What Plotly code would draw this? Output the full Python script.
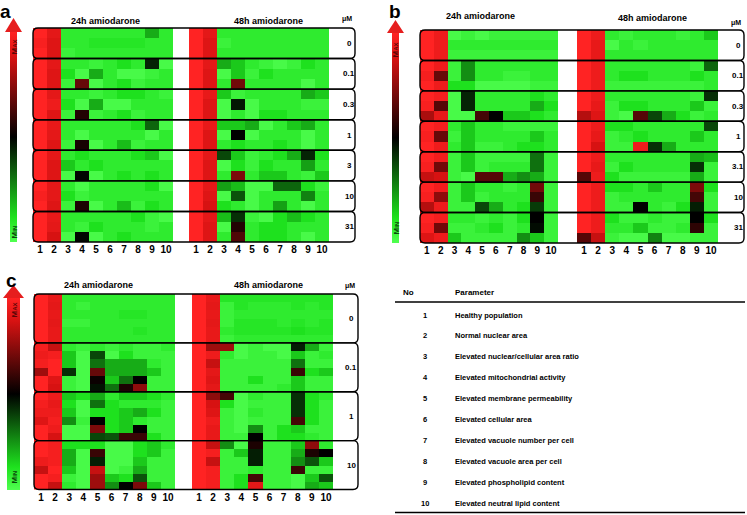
import plotly.graph_objects as go

# ---------------- data ----------------
COLS = ["1", "2", "3", "4", "5", "6", "7", "8", "9", "10"]
TIMES = ["24h amiodarone", "48h amiodarone"]
UNIT = "μM"
CONC_A = ["0", "0.1", "0.3", "1", "3", "10", "31"]
CONC_B = ["0", "0.1", "0.3", "1", "3.1", "10", "31"]
CONC_C = ["0", "0.1", "1", "10"]
PARAMETERS = [
    "Healthy population",
    "Normal nuclear area",
    "Elevated nuclear/cellular area ratio",
    "Elevated mitochondrial activity",
    "Elevated membrane permeability",
    "Elevated cellular area",
    "Elevated vacuole number per cell",
    "Elevated vacuole area per cell",
    "Elevated phospholipid content",
    "Elevated neutral lipid content",
]

# relative level 0 (min, green) .. 0.5 (black) .. 1 (max, red)
A_24H = [
    [1.0, 0.92, 0.08, 0.08, 0.08, 0.08, 0.08, 0.08, 0.21, 0.08],
    [0.98, 0.90, 0.08, 0.08, 0.10, 0.10, 0.10, 0.10, 0.08, 0.08],
    [1.0, 0.90, 0.05, 0.08, 0.08, 0.08, 0.08, 0.08, 0.08, 0.08],
    [1.0, 0.92, 0.08, 0.08, 0.05, 0.08, 0.12, 0.08, 0.44, 0.02],
    [1.0, 0.90, 0.12, 0.02, 0.21, 0.08, 0.02, 0.02, 0.05, 0.08],
    [1.0, 0.90, 0.05, 0.68, 0.02, 0.08, 0.12, 0.05, 0.08, 0.08],
    [1.0, 0.92, 0.08, 0.08, 0.05, 0.08, 0.12, 0.12, 0.08, 0.05],
    [1.0, 0.95, 0.12, 0.02, 0.21, 0.02, 0.02, 0.08, 0.08, 0.08],
    [1.0, 0.90, 0.05, 0.56, 0.05, 0.08, 0.12, 0.05, 0.08, 0.08],
    [1.0, 0.93, 0.08, 0.08, 0.08, 0.08, 0.08, 0.12, 0.33, 0.02],
    [1.0, 0.92, 0.08, 0.02, 0.08, 0.08, 0.08, 0.08, 0.02, 0.08],
    [1.0, 0.90, 0.05, 0.54, 0.02, 0.08, 0.18, 0.05, 0.08, 0.08],
    [1.0, 0.92, 0.08, 0.12, 0.08, 0.08, 0.08, 0.12, 0.16, 0.02],
    [1.0, 0.90, 0.16, 0.08, 0.12, 0.08, 0.08, 0.08, 0.08, 0.08],
    [1.0, 0.90, 0.02, 0.49, 0.02, 0.08, 0.12, 0.08, 0.12, 0.08],
    [1.0, 0.92, 0.08, 0.02, 0.08, 0.08, 0.08, 0.08, 0.12, 0.02],
    [0.98, 0.92, 0.12, 0.05, 0.08, 0.08, 0.08, 0.08, 0.08, 0.08],
    [1.0, 0.90, 0.05, 0.55, 0.02, 0.08, 0.18, 0.05, 0.12, 0.08],
    [1.0, 0.93, 0.08, 0.08, 0.08, 0.08, 0.08, 0.12, 0.05, 0.02],
    [1.0, 0.92, 0.08, 0.05, 0.12, 0.08, 0.08, 0.08, 0.05, 0.08],
    [1.0, 0.88, 0.02, 0.49, 0.02, 0.08, 0.12, 0.08, 0.08, 0.08],
]
A_48H = [
    [1.0, 0.92, 0.08, 0.08, 0.08, 0.08, 0.08, 0.08, 0.08, 0.08],
    [1.0, 0.90, 0.05, 0.08, 0.08, 0.08, 0.08, 0.08, 0.08, 0.08],
    [1.0, 0.90, 0.08, 0.08, 0.08, 0.08, 0.08, 0.08, 0.08, 0.08],
    [1.0, 0.92, 0.21, 0.16, 0.08, 0.05, 0.02, 0.05, 0.12, 0.08],
    [1.0, 0.90, 0.02, 0.16, 0.05, 0.12, 0.08, 0.08, 0.08, 0.08],
    [1.0, 0.90, 0.08, 0.70, 0.08, 0.08, 0.08, 0.08, 0.02, 0.08],
    [1.0, 0.93, 0.16, 0.05, 0.08, 0.08, 0.08, 0.08, 0.21, 0.16],
    [1.0, 0.90, 0.02, 0.46, 0.02, 0.08, 0.08, 0.08, 0.05, 0.05],
    [1.0, 0.90, 0.02, 0.08, 0.02, 0.12, 0.12, 0.08, 0.08, 0.08],
    [1.0, 0.93, 0.16, 0.16, 0.21, 0.02, 0.08, 0.16, 0.21, 0.08],
    [1.0, 0.90, 0.02, 0.50, 0.02, 0.08, 0.08, 0.08, 0.02, 0.08],
    [1.0, 0.90, 0.08, 0.12, 0.08, 0.08, 0.12, 0.08, 0.02, 0.08],
    [1.0, 0.92, 0.38, 0.16, 0.05, 0.08, 0.12, 0.21, 0.44, 0.12],
    [1.0, 0.90, 0.02, 0.12, 0.05, 0.12, 0.08, 0.08, 0.23, 0.08],
    [1.0, 0.90, 0.08, 0.72, 0.08, 0.16, 0.16, 0.08, 0.05, 0.16],
    [1.0, 0.92, 0.23, 0.18, 0.02, 0.02, 0.33, 0.33, 0.12, 0.05],
    [1.0, 0.90, 0.02, 0.36, 0.02, 0.08, 0.08, 0.08, 0.28, 0.08],
    [1.0, 0.88, 0.12, 0.08, 0.02, 0.08, 0.23, 0.08, 0.02, 0.08],
    [1.0, 0.92, 0.18, 0.42, 0.05, 0.02, 0.12, 0.18, 0.12, 0.08],
    [1.0, 0.90, 0.02, 0.56, 0.08, 0.12, 0.12, 0.08, 0.08, 0.08],
    [1.0, 0.90, 0.08, 0.64, 0.08, 0.12, 0.12, 0.08, 0.02, 0.08],
]
B_24H = [
    [1.0, 0.95, 0.02, 0.05, 0.02, 0.05, 0.05, 0.05, 0.05, 0.05],
    [1.0, 0.95, 0.08, 0.08, 0.08, 0.08, 0.08, 0.08, 0.08, 0.08],
    [1.0, 0.95, 0.05, 0.05, 0.05, 0.05, 0.05, 0.05, 0.05, 0.05],
    [1.0, 0.95, 0.05, 0.26, 0.08, 0.08, 0.08, 0.08, 0.08, 0.08],
    [0.97, 0.68, 0.05, 0.26, 0.08, 0.08, 0.05, 0.05, 0.08, 0.08],
    [1.0, 0.95, 0.12, 0.12, 0.02, 0.02, 0.02, 0.02, 0.05, 0.05],
    [1.0, 0.97, 0.02, 0.44, 0.08, 0.08, 0.08, 0.08, 0.12, 0.08],
    [0.98, 0.65, 0.02, 0.44, 0.08, 0.08, 0.08, 0.08, 0.21, 0.12],
    [0.80, 0.93, 0.02, 0.02, 0.62, 0.50, 0.16, 0.16, 0.12, 0.08],
    [1.0, 0.97, 0.08, 0.16, 0.08, 0.08, 0.05, 0.05, 0.05, 0.05],
    [0.98, 0.68, 0.05, 0.16, 0.08, 0.08, 0.08, 0.08, 0.16, 0.08],
    [1.0, 0.95, 0.08, 0.16, 0.05, 0.05, 0.08, 0.12, 0.12, 0.08],
    [1.0, 0.96, 0.05, 0.16, 0.05, 0.05, 0.05, 0.05, 0.31, 0.05],
    [0.98, 0.70, 0.05, 0.16, 0.05, 0.08, 0.08, 0.08, 0.31, 0.05],
    [0.85, 0.88, 0.05, 0.02, 0.65, 0.65, 0.21, 0.26, 0.21, 0.05],
    [1.0, 0.96, 0.05, 0.16, 0.08, 0.08, 0.05, 0.08, 0.70, 0.05],
    [0.98, 0.75, 0.05, 0.16, 0.05, 0.08, 0.08, 0.08, 0.60, 0.05],
    [0.82, 0.95, 0.05, 0.05, 0.38, 0.21, 0.08, 0.12, 0.40, 0.05],
    [1.0, 0.97, 0.08, 0.08, 0.05, 0.08, 0.05, 0.12, 0.50, 0.05],
    [0.98, 0.70, 0.05, 0.05, 0.08, 0.12, 0.05, 0.08, 0.48, 0.05],
    [0.90, 0.95, 0.16, 0.05, 0.05, 0.05, 0.05, 0.26, 0.16, 0.05],
]
B_48H = [
    [1.0, 0.95, 0.08, 0.05, 0.08, 0.08, 0.08, 0.05, 0.08, 0.16],
    [1.0, 0.93, 0.02, 0.08, 0.05, 0.08, 0.08, 0.08, 0.08, 0.08],
    [1.0, 0.93, 0.08, 0.08, 0.08, 0.08, 0.08, 0.08, 0.08, 0.08],
    [1.0, 0.95, 0.08, 0.08, 0.08, 0.08, 0.08, 0.08, 0.05, 0.33],
    [1.0, 0.95, 0.08, 0.12, 0.12, 0.08, 0.08, 0.08, 0.12, 0.08],
    [1.0, 0.95, 0.05, 0.05, 0.05, 0.05, 0.05, 0.05, 0.05, 0.08],
    [1.0, 0.95, 0.08, 0.08, 0.08, 0.08, 0.08, 0.08, 0.05, 0.42],
    [1.0, 0.93, 0.05, 0.12, 0.12, 0.08, 0.08, 0.08, 0.16, 0.05],
    [0.82, 0.90, 0.05, 0.02, 0.65, 0.38, 0.21, 0.12, 0.05, 0.08],
    [1.0, 0.95, 0.12, 0.12, 0.08, 0.08, 0.08, 0.08, 0.08, 0.38],
    [1.0, 0.93, 0.05, 0.08, 0.12, 0.08, 0.08, 0.08, 0.16, 0.08],
    [1.0, 0.88, 0.05, 0.05, 0.95, 0.42, 0.21, 0.08, 0.08, 0.08],
    [1.0, 0.95, 0.08, 0.08, 0.08, 0.08, 0.08, 0.08, 0.21, 0.18],
    [1.0, 0.93, 0.05, 0.12, 0.08, 0.08, 0.08, 0.08, 0.42, 0.05],
    [0.65, 0.95, 0.12, 0.05, 0.05, 0.05, 0.05, 0.05, 0.21, 0.05],
    [1.0, 0.95, 0.12, 0.12, 0.08, 0.16, 0.08, 0.08, 0.72, 0.12],
    [1.0, 0.95, 0.05, 0.08, 0.08, 0.08, 0.08, 0.08, 0.62, 0.05],
    [1.0, 0.95, 0.05, 0.05, 0.50, 0.08, 0.05, 0.12, 0.45, 0.05],
    [1.0, 0.95, 0.12, 0.05, 0.05, 0.08, 0.05, 0.05, 0.50, 0.12],
    [1.0, 0.95, 0.08, 0.08, 0.16, 0.05, 0.05, 0.08, 0.58, 0.05],
    [0.65, 0.85, 0.05, 0.02, 0.02, 0.28, 0.02, 0.02, 0.05, 0.05],
]
C_24H = [
    [1.0, 0.93, 0.08, 0.08, 0.08, 0.08, 0.08, 0.08, 0.08, 0.08],
    [1.0, 0.92, 0.08, 0.05, 0.08, 0.08, 0.08, 0.08, 0.08, 0.08],
    [1.0, 0.93, 0.08, 0.08, 0.08, 0.08, 0.10, 0.10, 0.08, 0.08],
    [1.0, 0.92, 0.05, 0.05, 0.08, 0.08, 0.08, 0.08, 0.08, 0.08],
    [1.0, 0.93, 0.08, 0.08, 0.08, 0.08, 0.08, 0.10, 0.08, 0.08],
    [1.0, 0.93, 0.08, 0.08, 0.08, 0.08, 0.08, 0.08, 0.08, 0.08],
    [0.97, 0.85, 0.08, 0.05, 0.08, 0.05, 0.08, 0.05, 0.05, 0.08],
    [0.95, 0.97, 0.16, 0.02, 0.38, 0.02, 0.12, 0.05, 0.05, 0.05],
    [0.97, 1.0, 0.16, 0.02, 0.31, 0.21, 0.21, 0.21, 0.08, 0.05],
    [0.78, 1.0, 0.42, 0.02, 0.68, 0.21, 0.21, 0.21, 0.16, 0.05],
    [1.0, 0.90, 0.05, 0.02, 0.52, 0.16, 0.31, 0.50, 0.05, 0.05],
    [1.0, 0.88, 0.05, 0.02, 0.47, 0.31, 0.55, 0.75, 0.05, 0.05],
    [1.0, 0.95, 0.16, 0.12, 0.21, 0.08, 0.16, 0.16, 0.12, 0.08],
    [0.97, 0.93, 0.12, 0.02, 0.31, 0.12, 0.08, 0.08, 0.08, 0.05],
    [0.95, 0.95, 0.16, 0.02, 0.12, 0.12, 0.16, 0.21, 0.12, 0.05],
    [0.90, 0.97, 0.26, 0.05, 0.50, 0.12, 0.16, 0.08, 0.05, 0.05],
    [1.0, 0.95, 0.02, 0.02, 0.72, 0.12, 0.16, 0.50, 0.05, 0.05],
    [1.0, 0.88, 0.02, 0.02, 0.38, 0.36, 0.60, 0.60, 0.12, 0.05],
    [1.0, 0.97, 0.12, 0.12, 0.12, 0.02, 0.02, 0.12, 0.16, 0.08],
    [1.0, 0.97, 0.21, 0.02, 0.60, 0.02, 0.02, 0.12, 0.16, 0.05],
    [0.95, 0.97, 0.21, 0.02, 0.45, 0.02, 0.02, 0.16, 0.05, 0.05],
    [0.85, 1.0, 0.16, 0.02, 0.85, 0.02, 0.05, 0.21, 0.05, 0.05],
    [1.0, 0.97, 0.05, 0.02, 0.78, 0.16, 0.12, 0.36, 0.05, 0.05],
    [1.0, 0.85, 0.08, 0.02, 0.78, 0.26, 0.50, 0.72, 0.16, 0.05],
]
C_48H = [
    [1.0, 0.93, 0.10, 0.10, 0.10, 0.10, 0.10, 0.10, 0.10, 0.10],
    [1.0, 0.92, 0.05, 0.10, 0.08, 0.08, 0.08, 0.10, 0.08, 0.10],
    [1.0, 0.93, 0.05, 0.08, 0.08, 0.08, 0.08, 0.08, 0.08, 0.08],
    [1.0, 0.92, 0.05, 0.10, 0.10, 0.10, 0.08, 0.10, 0.08, 0.10],
    [1.0, 0.93, 0.08, 0.10, 0.10, 0.10, 0.10, 0.12, 0.10, 0.10],
    [1.0, 0.93, 0.05, 0.08, 0.08, 0.08, 0.08, 0.08, 0.08, 0.08],
    [1.0, 0.78, 0.78, 0.02, 0.05, 0.02, 0.02, 0.45, 0.21, 0.05],
    [1.0, 0.95, 0.08, 0.02, 0.05, 0.05, 0.02, 0.16, 0.05, 0.08],
    [1.0, 0.85, 0.05, 0.05, 0.05, 0.05, 0.05, 0.31, 0.05, 0.05],
    [1.0, 0.92, 0.05, 0.05, 0.05, 0.05, 0.05, 0.60, 0.12, 0.16],
    [1.0, 0.90, 0.05, 0.05, 0.12, 0.05, 0.05, 0.16, 0.05, 0.05],
    [1.0, 0.92, 0.05, 0.05, 0.05, 0.05, 0.08, 0.16, 0.05, 0.05],
    [1.0, 0.75, 0.62, 0.02, 0.08, 0.05, 0.05, 0.42, 0.12, 0.08],
    [1.0, 0.88, 0.12, 0.02, 0.05, 0.05, 0.05, 0.42, 0.12, 0.05],
    [1.0, 0.90, 0.05, 0.02, 0.08, 0.05, 0.05, 0.42, 0.12, 0.05],
    [1.0, 0.95, 0.05, 0.02, 0.05, 0.05, 0.05, 0.62, 0.12, 0.05],
    [1.0, 0.93, 0.05, 0.02, 0.26, 0.05, 0.12, 0.16, 0.05, 0.05],
    [1.0, 0.93, 0.05, 0.05, 0.50, 0.05, 0.12, 0.12, 0.08, 0.05],
    [1.0, 0.85, 0.26, 0.02, 0.55, 0.05, 0.05, 0.16, 0.75, 0.08],
    [1.0, 0.97, 0.05, 0.16, 0.45, 0.05, 0.05, 0.21, 0.55, 0.50],
    [1.0, 0.85, 0.05, 0.05, 0.45, 0.05, 0.05, 0.26, 0.36, 0.16],
    [1.0, 0.97, 0.05, 0.05, 0.08, 0.05, 0.05, 0.60, 0.05, 0.05],
    [1.0, 0.97, 0.05, 0.12, 0.62, 0.05, 0.05, 0.02, 0.16, 0.36],
    [1.0, 0.97, 0.05, 0.12, 0.92, 0.05, 0.05, 0.02, 0.21, 0.16],
]

# ---------------- layout helpers ----------------
W, H = 747, 515
FONT = "Liberation Sans, Arial, sans-serif"
COLORSCALE = [
    [0.0, "rgb(80,255,80)"],
    [0.12, "rgb(30,225,30)"],
    [0.5, "rgb(0,0,0)"],
    [0.88, "rgb(215,18,18)"],
    [1.0, "rgb(255,35,35)"],
]


def fx(x):
    return x / W


def fy(y):
    return 1 - y / H


def rbox_path(x0, y0, x1, y1, r):
    pts = [
        ("M", [(x0 + r, y0)]),
        ("L", [(x1 - r, y0)]),
        ("Q", [(x1, y0), (x1, y0 + r)]),
        ("L", [(x1, y1 - r)]),
        ("Q", [(x1, y1), (x1 - r, y1)]),
        ("L", [(x0 + r, y1)]),
        ("Q", [(x0, y1), (x0, y1 - r)]),
        ("L", [(x0, y0 + r)]),
        ("Q", [(x0, y0), (x0 + r, y0)]),
    ]
    s = ""
    for cmd, ps in pts:
        s += cmd + " ".join(f"{fx(px):.5f},{fy(py):.5f}" for px, py in ps) + " "
    return s + "Z"


def tri_path(tip, left, right):
    return "M{:.5f},{:.5f} L{:.5f},{:.5f} L{:.5f},{:.5f} Z".format(
        fx(tip[0]), fy(tip[1]), fx(left[0]), fy(left[1]), fx(right[0]), fy(right[1]))


PANELS = [
    dict(letter="a", letter_xy=(5, 0), data=(A_24H, A_48H), conc=CONC_A,
         xs=((33, 173), (189, 329)), y=(28, 242), box_right=355, conc_x=349,
         head_y=(21, 21), unit_xy=(347, 19), titles_x=(105, 268),
         bar=(10, 17, 32, 242), head=(13.5, 18, 5, 22, 32), maxy=47, miny=232),
    dict(letter="b", letter_xy=(395, 0), data=(B_24H, B_48H), conc=CONC_B,
         xs=((420, 558), (577, 718)), y=(30, 243), box_right=744, conc_x=738,
         head_y=(16, 18), unit_xy=(736, 23), titles_x=(480, 652),
         bar=(392, 399, 33, 243), head=(395.5, 20, 387, 404, 33), maxy=50, miny=228),
    dict(letter="c", letter_xy=(11, 269), data=(C_24H, C_48H), conc=CONC_C,
         xs=((34, 175), (192, 333)), y=(294, 489.5), box_right=358, conc_x=351,
         head_y=(285, 285), unit_xy=(350, 286), titles_x=(98, 268),
         bar=(7, 20, 298, 489.5), head=(13.5, 285, 3, 24, 298), maxy=310, miny=477),
]

fig = go.Figure()
layout = dict(
    template="none",
    width=W, height=H, margin=dict(l=0, r=0, t=0, b=0, pad=0, autoexpand=False),
    paper_bgcolor="white", plot_bgcolor="white", showlegend=False,
    font=dict(family=FONT, color="black"),
)
shapes, annotations = [], []
ax = 0
for pi, P in enumerate(PANELS):
    cax = "coloraxis" if pi == 0 else f"coloraxis{pi + 1}"
    b0, b1, bt, bb = P["bar"]
    layout[cax] = dict(
        cmin=0, cmax=1, colorscale=COLORSCALE,
        colorbar=dict(x=fx(b0), xanchor="left", thickness=b1 - b0, thicknessmode="pixels",
                      len=(bb - bt) / H, lenmode="fraction", y=fy(bb), yanchor="bottom",
                      xpad=0, ypad=0, outlinewidth=0, showticklabels=False, ticks=""),
    )
    y0, y1 = P["y"]
    for ti, rows in enumerate(P["data"]):
        ax += 1
        xa, ya = ("x", "y") if ax == 1 else (f"x{ax}", f"y{ax}")
        n = len(rows)
        fig.add_trace(go.Heatmap(z=rows, x=list(range(10)), y=list(range(n)),
                                 coloraxis=cax, xaxis=xa, yaxis=ya, hoverinfo="skip"))
        x0, x1 = P["xs"][ti]
        key = "" if ax == 1 else str(ax)
        layout["xaxis" + key] = dict(
            domain=[fx(x0), fx(x1)], range=[-0.5, 9.5], anchor=ya,
            tickvals=list(range(10)), ticktext=COLS, ticks="", showgrid=False,
            zeroline=False, showline=False, fixedrange=True, ticklabelstandoff=0,
            tickfont=dict(size=10, family=FONT, color="black", weight="bold"))
        layout["yaxis" + key] = dict(
            domain=[fy(y1), fy(y0)], range=[n - 0.5, -0.5], anchor=xa, visible=False,
            fixedrange=True)
        annotations.append(dict(x=fx(P["titles_x"][ti]), y=fy(P["head_y"][ti]),
                                xref="paper", yref="paper", text=TIMES[ti], showarrow=False,
                                xanchor="center", yanchor="middle",
                                font=dict(size=9, family=FONT, color="black", weight="bold")))
    # group boxes
    ng = len(P["conc"])
    gh = (y1 - y0) / ng
    bx0 = P["xs"][0][0]
    for g, c in enumerate(P["conc"]):
        gy0, gy1 = y0 + g * gh, y0 + (g + 1) * gh
        shapes.append(dict(type="path", xref="paper", yref="paper",
                           path=rbox_path(bx0, gy0, P["box_right"], gy1, 5),
                           line=dict(color="black", width=1.4), layer="above"))
        annotations.append(dict(x=fx(P["conc_x"]), y=fy((gy0 + gy1) / 2), xref="paper",
                                yref="paper", text=c, showarrow=False, xanchor="center",
                                yanchor="middle",
                                font=dict(size=8, family=FONT, color="black", weight="bold")))
    annotations.append(dict(x=fx(P["unit_xy"][0]), y=fy(P["unit_xy"][1]), xref="paper",
                            yref="paper", text=UNIT, showarrow=False, xanchor="center",
                            yanchor="middle",
                            font=dict(size=7, family=FONT, color="black", weight="bold")))
    annotations.append(dict(x=fx(P["letter_xy"][0]), y=fy(P["letter_xy"][1]), xref="paper",
                            yref="paper", text=P["letter"], showarrow=False, xanchor="center",
                            yanchor="top", borderpad=0,
                            font=dict(size=19, family=FONT, color="black", weight="bold")))
    hx, ht, hl, hr, hb = P["head"]
    shapes.append(dict(type="path", xref="paper", yref="paper",
                       path=tri_path((hx, ht), (hl, hb), (hr, hb)),
                       fillcolor="rgb(230,30,30)", line=dict(width=0), layer="above"))
    bc = (b0 + b1) / 2
    annotations.append(dict(x=fx(bc), y=fy(P["maxy"]), xref="paper", yref="paper",
                            text="M<span style='font-size:6px'>AX</span>", showarrow=False,
                            textangle=-90, xanchor="center", yanchor="middle",
                            font=dict(size=8, family=FONT, color="rgb(90,5,5)", weight="bold")))
    annotations.append(dict(x=fx(bc), y=fy(P["miny"]), xref="paper", yref="paper",
                            text="M<span style='font-size:6px'>IN</span>", showarrow=False,
                            textangle=-90, xanchor="center", yanchor="middle",
                            font=dict(size=8, family=FONT, color="rgb(10,70,10)", weight="bold")))

# ---------------- parameter table ----------------
TBL_FONT = "Liberation Sans Narrow, Arial Narrow, Liberation Sans, Arial, sans-serif"
annotations.append(dict(x=fx(408), y=fy(292), xref="paper", yref="paper", text="No",
                        showarrow=False, xanchor="center", yanchor="middle",
                        font=dict(size=8, family=TBL_FONT, color="black", weight="bold")))
annotations.append(dict(x=fx(453), y=fy(292), xref="paper", yref="paper", text="Parameter",
                        showarrow=False, xanchor="left", yanchor="middle",
                        font=dict(size=8, family=TBL_FONT, color="black", weight="bold")))
shapes.append(dict(type="line", xref="paper", yref="paper", x0=fx(395), x1=fx(745),
                   y0=fy(302), y1=fy(302), line=dict(color="black", width=1.5)))
shapes.append(dict(type="line", xref="paper", yref="paper", x0=fx(395), x1=fx(745),
                   y0=fy(512.5), y1=fy(512.5), line=dict(color="black", width=1.5)))
row_top, row_step = 315, (503 - 315) / 9
for i, p in enumerate(PARAMETERS):
    yy = row_top + i * row_step
    annotations.append(dict(x=fx(425), y=fy(yy), xref="paper", yref="paper", text=str(i + 1),
                            showarrow=False, xanchor="center", yanchor="middle",
                            font=dict(size=7.5, family=TBL_FONT, color="black", weight="bold")))
    annotations.append(dict(x=fx(453), y=fy(yy), xref="paper", yref="paper", text=p,
                            showarrow=False, xanchor="left", yanchor="middle",
                            font=dict(size=7.5, family=TBL_FONT, color="black", weight="bold")))

layout["shapes"] = shapes
layout["annotations"] = annotations
fig.update_layout(**layout)
fig.write_html(
    "out.html",
    config={"displayModeBar": False, "staticPlot": True},
    post_script="document.body.style.margin='0px';document.body.style.overflow='hidden';",
)
